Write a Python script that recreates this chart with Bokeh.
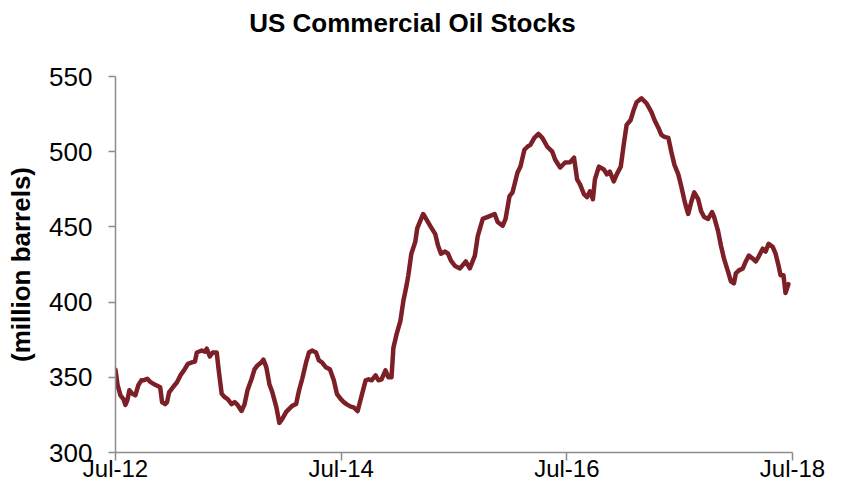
from bokeh.plotting import figure
from bokeh.layouts import column
from bokeh.models import Range1d, FixedTicker, Label
from bokeh.embed import file_html
from bokeh.resources import INLINE

# Decimal years (weekly-ish samples)
years = [
    2012.500, 2012.518, 2012.544, 2012.570, 2012.588, 2012.606, 2012.623, 2012.650, 2012.676, 2012.702,
    2012.729, 2012.746, 2012.782, 2012.808, 2012.852, 2012.896, 2012.913, 2012.940, 2012.957, 2012.975,
    2013.010, 2013.045, 2013.081, 2013.107, 2013.142, 2013.177, 2013.204, 2013.221, 2013.265, 2013.292,
    2013.309, 2013.336, 2013.362, 2013.397, 2013.415, 2013.441, 2013.468, 2013.494, 2013.529, 2013.556,
    2013.582, 2013.617, 2013.644, 2013.670, 2013.705, 2013.732, 2013.758, 2013.793, 2013.811, 2013.837,
    2013.864, 2013.890, 2013.925, 2013.952, 2013.978, 2014.013, 2014.039, 2014.066, 2014.101, 2014.127,
    2014.154, 2014.189, 2014.215, 2014.242, 2014.277, 2014.303, 2014.330, 2014.365, 2014.400, 2014.435,
    2014.462, 2014.497, 2014.523, 2014.550, 2014.585, 2014.611, 2014.646, 2014.682, 2014.717, 2014.743,
    2014.770, 2014.805, 2014.831, 2014.858, 2014.893, 2014.919, 2014.946, 2014.963, 2014.990, 2015.025,
    2015.051, 2015.078, 2015.095, 2015.122, 2015.157, 2015.174, 2015.201, 2015.227, 2015.253, 2015.289,
    2015.333, 2015.359, 2015.385, 2015.421, 2015.447, 2015.473, 2015.509, 2015.553, 2015.605, 2015.640,
    2015.685, 2015.711, 2015.755, 2015.816, 2015.860, 2015.887, 2015.931, 2015.957, 2015.992, 2016.019,
    2016.063, 2016.089, 2016.124, 2016.151, 2016.177, 2016.212, 2016.248, 2016.283, 2016.327, 2016.371,
    2016.397, 2016.441, 2016.485, 2016.529, 2016.564, 2016.591, 2016.617, 2016.652, 2016.679, 2016.705,
    2016.731, 2016.749, 2016.784, 2016.828, 2016.855, 2016.881, 2016.916, 2016.942, 2016.978, 2017.004,
    2017.030, 2017.066, 2017.092, 2017.118, 2017.162, 2017.206, 2017.250, 2017.277, 2017.312, 2017.338,
    2017.365, 2017.400, 2017.426, 2017.453, 2017.488, 2017.514, 2017.541, 2017.558, 2017.576, 2017.602,
    2017.629, 2017.664, 2017.690, 2017.717, 2017.752, 2017.787, 2017.805, 2017.840, 2017.866, 2017.893,
    2017.928, 2017.954, 2017.981, 2017.998, 2018.025, 2018.060, 2018.086, 2018.113, 2018.148, 2018.174,
    2018.200, 2018.236, 2018.262, 2018.288, 2018.324, 2018.350, 2018.376, 2018.394, 2018.420, 2018.438,
    2018.464,
]

# Commercial crude stocks, million barrels
stocks = [
    355.0, 345.0, 338.0, 335.5, 331.6, 335.0, 341.4, 339.0, 338.0, 344.7,
    348.0, 348.0, 349.0, 347.0, 345.0, 343.4, 333.5, 332.2, 333.5, 340.0,
    343.4, 346.7, 352.0, 354.6, 359.0, 359.9, 360.5, 366.5, 367.8, 367.0,
    369.0, 363.8, 366.5, 366.5, 354.6, 339.0, 336.8, 335.5, 332.2, 333.5,
    331.6, 327.6, 332.2, 341.4, 348.7, 355.3, 357.9, 359.9, 361.8, 356.6,
    345.4, 340.0, 330.3, 319.7, 322.4, 327.0, 329.0, 331.0, 332.2, 341.4,
    348.7, 359.9, 366.5, 367.8, 366.5, 361.2, 359.9, 356.6, 355.3, 348.0,
    339.0, 335.5, 333.5, 332.0, 330.5, 330.0, 327.6, 338.0, 348.0, 348.7,
    348.0, 351.3, 348.0, 348.7, 354.6, 350.0, 350.0, 369.7, 378.3, 387.5,
    400.7, 410.5, 417.8, 432.2, 440.1, 449.0, 454.0, 458.6, 455.3, 450.7,
    445.4, 437.5, 432.2, 433.6, 432.2, 427.6, 424.0, 422.4, 427.0, 422.4,
    430.9, 444.1, 455.3, 457.2, 458.6, 453.3, 450.7, 455.3, 470.4, 473.0,
    486.2, 490.1, 501.3, 503.3, 504.6, 509.2, 511.8, 509.2, 503.3, 500.0,
    494.7, 489.5, 492.8, 493.0, 496.0, 481.6, 478.3, 471.7, 469.7, 473.7,
    468.4, 481.6, 490.1, 488.2, 484.9, 486.8, 480.3, 484.9, 490.1, 504.6,
    517.8, 521.1, 527.6, 532.9, 535.5, 532.2, 526.3, 521.1, 515.8, 511.2,
    509.9, 509.2, 500.0, 491.4, 484.9, 477.0, 468.0, 463.0, 458.6, 466.4,
    473.0, 468.4, 460.5, 456.6, 455.3, 459.9, 456.6, 447.4, 437.5, 428.9,
    420.4, 413.8, 412.5, 419.1, 421.1, 422.4, 427.0, 430.9, 428.9, 427.0,
    430.3, 435.5, 433.6, 438.8, 436.8, 432.2, 424.3, 417.8, 417.8, 406.0,
    412.0,
]

x_ticks = [2012.5, 2014.5, 2016.5, 2018.5]
x_tick_labels = ["Jul-12", "Jul-14", "Jul-16", "Jul-18"]
y_ticks = [300, 350, 400, 450, 500, 550]
title_text = "US Commercial Oil Stocks"
y_label = "(million barrels)"

FONT = "Liberation Sans"
AXIS_GRAY = "#8c8c8c"
W = 827
TITLE_H = 44
MAIN_H = 484 - TITLE_H


def no_align(fig):
    if "frame_align" in fig.properties():
        fig.frame_align = False


# ---- title strip ----
tf = figure(width=W, height=TITLE_H, output_backend="svg", toolbar_location=None,
            x_range=Range1d(0, 1), y_range=Range1d(0, 1),
            x_axis_location=None, y_axis_location=None, min_border=0)
tf.outline_line_color = None
tf.grid.visible = False
no_align(tf)
tf.add_layout(Label(x=412, y=22, x_units="screen", y_units="screen", text=title_text,
                    text_align="center", text_baseline="alphabetic", text_font=FONT,
                    text_font_size="26px", text_font_style="bold", text_color="black"))

# ---- main chart ----
p = figure(width=W, height=MAIN_H, output_backend="svg", toolbar_location=None,
           x_range=Range1d(x_ticks[0], x_ticks[-1]), y_range=Range1d(y_ticks[0], y_ticks[-1]),
           min_border_left=115, min_border_right=35, min_border_top=32, min_border_bottom=32)
p.outline_line_color = None
p.grid.visible = False
no_align(p)

p.line(years, stocks, line_color="#7c1f27", line_width=4.5, line_join="round", line_cap="round")

p.xaxis.ticker = FixedTicker(ticks=x_ticks)
p.xaxis.major_label_overrides = {t: l for t, l in zip(x_ticks, x_tick_labels)}
p.xaxis.minor_tick_line_color = None
p.xaxis.major_tick_in = 0
p.xaxis.major_tick_out = 8
p.xaxis.major_label_standoff = -6
p.xaxis.major_label_text_font_size = "24px"

p.yaxis.ticker = FixedTicker(ticks=y_ticks)
p.yaxis.minor_tick_line_color = None
p.yaxis.major_tick_in = 0
p.yaxis.major_tick_out = 7
p.yaxis.major_label_standoff = 16
p.yaxis.major_label_text_font_size = "26px"
p.yaxis.axis_label = y_label
p.yaxis.axis_label_text_font = FONT
p.yaxis.axis_label_text_font_style = "bold"
p.yaxis.axis_label_text_font_size = "26px"
p.yaxis.axis_label_text_color = "black"
p.yaxis.axis_label_standoff = 10

for ax in (p.xaxis, p.yaxis):
    ax.axis_line_color = AXIS_GRAY
    ax.axis_line_width = 1.5
    ax.major_tick_line_color = AXIS_GRAY
    ax.major_tick_line_width = 1.5
    ax.major_label_text_font = FONT
    ax.major_label_text_color = "black"

layout = column(tf, p, spacing=0)
open("out.html", "w").write(file_html(layout, INLINE))
